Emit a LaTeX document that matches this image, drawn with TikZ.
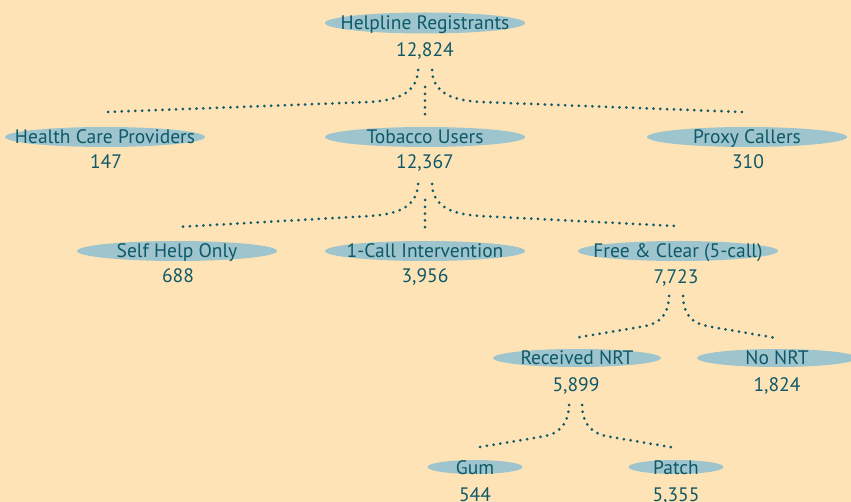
\documentclass[tikz,border=0pt]{standalone}
\usepackage{fontspec}
\setmainfont{PT Sans}
\usetikzlibrary{shapes.geometric}
\definecolor{bg}{HTML}{FDE3B6}
\definecolor{ell}{HTML}{9EC5CD}
\definecolor{ink}{HTML}{0E5868}
\tikzset{
  ellbox/.style={ellipse, fill=ell, inner sep=0pt},
  lab/.style={text=ink, inner sep=0pt, text height=14pt, text depth=0pt, font=\fontsize{19.5}{19.5}\selectfont},
  num/.style={text=ink, inner sep=0pt, text height=14pt, text depth=0pt, font=\fontsize{19.5}{19.5}\selectfont},
  dotline/.style={draw=ink, line width=3pt, line cap=round, dash pattern=on 0pt off 6.8pt},
}
\begin{document}
\begin{tikzpicture}[x=1pt,y=-1pt]
\fill[bg] (0,0) rectangle (851,502);
\useasboundingbox (0,0) rectangle (851,502);
% level 0
\node[ellbox, minimum width=200, minimum height=21] (hr) at (425,23) {};
\node[lab] (hrt) at (hr) {Helpline Registrants};
\node[num] (hrn) at (425,50) {12,824};
% level 1
\node[ellbox, minimum width=200, minimum height=20] (hcp) at (105,137) {};
\node[lab] (hcpt) at (hcp) {Health Care Providers};
\node[num] (hcpn) at (106,162) {147};
\node[ellbox, minimum width=200, minimum height=20] (tu) at (425,137) {};
\node[lab] (tut) at (tu) {Tobacco Users};
\node[num] (tun) at (425,162) {12,367};
\node[ellbox, minimum width=200, minimum height=20] (pc) at (747,137) {};
\node[lab] (pct) at (pc) {Proxy Callers};
\node[num] (pcn) at (748,162) {310};
% level 2
\node[ellbox, minimum width=200, minimum height=20] (sh) at (177,251) {};
\node[lab] (sht) at (sh) {Self Help Only};
\node[num] (shn) at (178,276) {688};
\node[ellbox, minimum width=200, minimum height=20] (oc) at (425,251) {};
\node[lab] (oct) at (oc) {1-Call Intervention};
\node[num] (ocn) at (425,276) {3,956};
\node[ellbox, minimum width=200, minimum height=20] (fc) at (678,251) {};
\node[lab] (fct) at (fc) {Free \& Clear (5-call)};
\node[num] (fcn) at (676,277) {7,723};
% level 3
\node[ellbox, minimum width=168, minimum height=18] (rn) at (577,358) {};
\node[lab] (rnt) at (rn) {Received NRT};
\node[num] (rnn) at (576,384) {5,899};
\node[ellbox, minimum width=160, minimum height=18] (nn) at (777,358) {};
\node[lab] (nnt) at (nn) {No NRT};
\node[num] (nnn) at (777,384) {1,824};
% level 4
\node[ellbox, minimum width=95, minimum height=14] (gum) at (475,467) {};
\node[lab] (gumt) at (gum) {Gum};
\node[num] (gumn) at (475,494) {544};
\node[ellbox, minimum width=95, minimum height=14] (pat) at (676,467) {};
\node[lab] (patt) at (pat) {Patch};
\node[num] (patn) at (676,494) {5,355};
% connectors level 0 -> 1
\coordinate (a1) at (418,70); \coordinate (a2) at (432,70); \coordinate (a3) at (425,87);
\coordinate (e1) at (107,112); \coordinate (e2) at (742,112); \coordinate (e3) at (425,117);
\draw[dotline] (a1) .. controls (417,92) and (400,100) .. (370,102) -- (e1);
\draw[dotline] (a2) .. controls (433,92) and (450,100) .. (480,102) -- (e2);
\draw[dotline] (a3) -- (e3);
% level 1 -> 2
\coordinate (b1) at (418,184); \coordinate (b2) at (432,184); \coordinate (b3) at (425,200);
\coordinate (f1) at (177,227); \coordinate (f2) at (675,226); \coordinate (f3) at (425,230);
\draw[dotline] (b1) .. controls (417,206) and (400,214) .. (370,216) -- (f1);
\draw[dotline] (b2) .. controls (433,206) and (450,214) .. (480,216) -- (f2);
\draw[dotline] (b3) -- (f3);
% level 2 -> 3
\coordinate (c1) at (669,296); \coordinate (c2) at (683,296);
\coordinate (g1) at (574,338); \coordinate (g2) at (776,338);
\draw[dotline] (c1) .. controls (668,316) and (660,324) .. (640,327) -- (g1);
\draw[dotline] (c2) .. controls (684,316) and (692,324) .. (712,327) -- (g2);
% level 3 -> 4
\coordinate (d1) at (569,405); \coordinate (d2) at (582,405);
\coordinate (h1) at (474,448); \coordinate (h2) at (676,448);
\draw[dotline] (d1) .. controls (568,425) and (560,434) .. (540,437) -- (h1);
\draw[dotline] (d2) .. controls (583,425) and (591,434) .. (611,437) -- (h2);
\end{tikzpicture}
\end{document}
